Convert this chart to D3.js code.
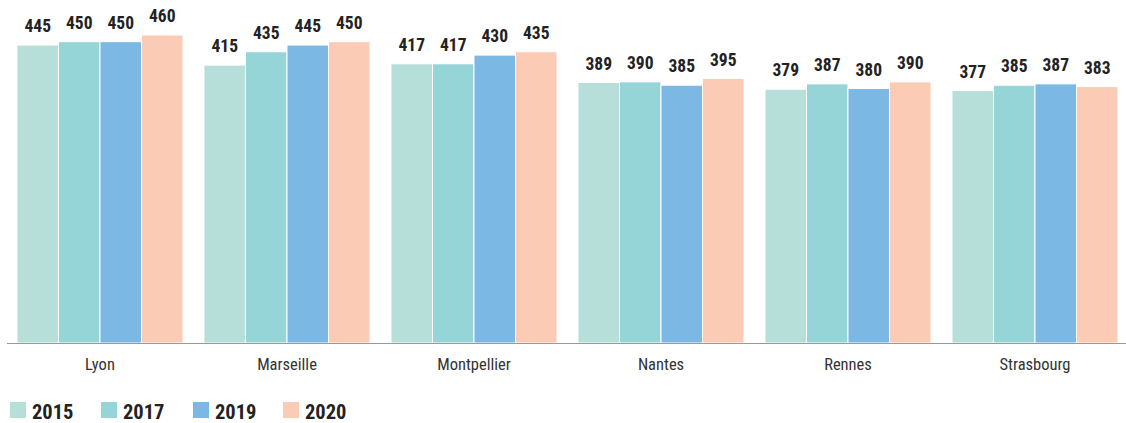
<!DOCTYPE html>
<html><head><meta charset="utf-8">
<script src="https://cdn.jsdelivr.net/npm/d3@7"></script>
<style>
body{margin:0;background:#fff;}
svg{display:block;}
text{font-family:"Liberation Sans Narrow","Roboto Condensed","Liberation Sans",sans-serif;}
</style></head>
<body><svg id="c" width="1126" height="423"></svg>
<script>
const categories = ["Lyon","Marseille","Montpellier","Nantes","Rennes","Strasbourg"];
const seriesNames = ["2015","2017","2019","2020"];
const v2015 = [445,415,417,389,379,377];
const v2017 = [450,435,417,390,387,385];
const v2019 = [450,445,430,385,380,387];
const v2020 = [460,450,435,395,390,383];
const colors = ["#b5dfd8","#95d5d8","#7bb8e3","#fccbb6"];

const seriesValues = [v2015,v2017,v2019,v2020];
const svg = d3.select("#c");
const x = d3.scaleBand().domain(categories).range([6.5,1128.5]).paddingInner(0.112).paddingOuter(0.056);
const xi = d3.scaleBand().domain(seriesNames).range([0,x.bandwidth()]);
const y = d3.scaleLinear().domain([0,460]).range([343,35]);
const color = d3.scaleOrdinal().domain(seriesNames).range(colors);

const g = svg.selectAll("g.cat").data(categories).join("g")
  .attr("transform", d=>`translate(${x(d)},0)`);
const items = (c,ci)=>seriesNames.map((s,si)=>({s, v:seriesValues[si][ci]}));
g.each(function(c,ci){
  const gg = d3.select(this);
  const data = items(c,ci);
  gg.selectAll("rect").data(data).join("rect")
    .attr("x", d=>xi(d.s)).attr("width", xi.bandwidth())
    .attr("y", d=>y(d.v)).attr("height", d=>y(0)-y(d.v))
    .attr("fill", d=>color(d.s)).attr("stroke","#fff").attr("stroke-width",1);
  gg.selectAll("text.val").data(data).join("text").attr("class","val")
    .attr("x", d=>xi(d.s)+xi.bandwidth()/2).attr("y", d=>y(d.v)-13)
    .attr("text-anchor","middle").attr("font-size",17.5).attr("font-weight","bold")
    .attr("fill","#222").text(d=>d.v);
});

// axis
const ax = svg.append("g").attr("transform","translate(0,343)")
  .call(d3.axisBottom(x).tickSize(0).tickPadding(15));
ax.select(".domain").attr("d","M7,0.5H1126").attr("stroke","#999").attr("stroke-width",1.2);
ax.selectAll("text").attr("font-size",16.5).attr("fill","#333")
  .attr("font-family",'"Liberation Sans Narrow","Roboto Condensed","Liberation Sans",sans-serif');

// legend
const legX = [10,101,193,283];
const lg = svg.selectAll("g.leg").data(seriesNames).join("g")
  .attr("transform",(d,i)=>`translate(${legX[i]},402)`);
lg.append("rect").attr("width",16).attr("height",16).attr("fill",d=>color(d));
lg.append("text").attr("x",22).attr("y",16.5).attr("font-size",20.5).attr("font-weight","bold")
  .attr("fill","#222").text(d=>d);
</script></body></html>
